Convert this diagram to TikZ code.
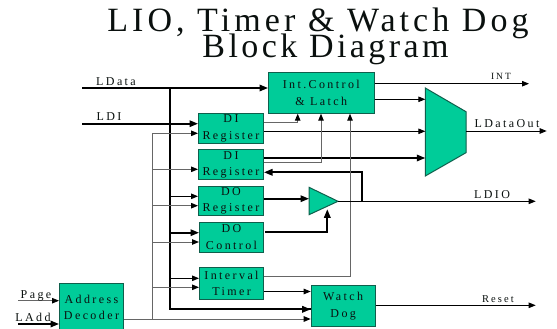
\documentclass[tikz,border=0pt]{standalone}
\usepackage{fontspec}
\setmainfont{Liberation Serif}
\newfontfamily\lblfont[LetterSpace=20]{Liberation Serif}
\newfontfamily\ttlfont[LetterSpace=10]{Liberation Serif}
\newfontfamily\ttlwidefont[LetterSpace=12]{Liberation Serif}
\usetikzlibrary{arrows.meta}
\definecolor{boxfill}{HTML}{00CC99}
\definecolor{boxedge}{HTML}{0F5F4C}
\definecolor{graywire}{HTML}{666666}
\definecolor{inktext}{HTML}{0A100E}
\tikzset{
  x=1pt,y=-1pt,
  box/.style={draw=boxedge,fill=boxfill,line width=1pt,anchor=north west,inner sep=0pt,align=center,text=inktext,font=\lblfont\fontsize{12}{16.5}\selectfont},
  lbl/.style={anchor=base,inner sep=0pt,text=inktext,font=\lblfont\fontsize{12}{14}\selectfont},
  ttl/.style={anchor=base,inner sep=0pt,text=inktext,font=\ttlfont\fontsize{34}{34}\selectfont},
  thin wire/.style={draw=black,line width=0.9pt,-{Triangle[length=7pt,width=5.5pt]}},
  gray wire/.style={draw=graywire,line width=1pt,-{Triangle[length=7pt,width=5.5pt,color=black]}},
  thick wire/.style={draw=black,line width=1.7pt,-{Triangle[length=8.5pt,width=6.5pt]}},
  thick line/.style={draw=black,line width=1.7pt},
  gray line/.style={draw=graywire,line width=1pt},
}
\begin{document}
\begin{tikzpicture}
\clip (0,0) rectangle (557,329);
\useasboundingbox (0,0) rectangle (557,329);
\fill[white] (0,0) rectangle (557,329);

\node[ttl,font=\ttlwidefont\fontsize{34}{34}\selectfont] (t1) at (318,32) {LIO, Timer \& Watch Dog};
\node[ttl] (t2) at (325.5,58) {Block Diagram};

% free ends and junctions
\coordinate (ldata) at (82,88);
\coordinate (ldi) at (82,123.7);
\coordinate (page) at (18,300.7);
\coordinate (ladd) at (18,324);
\coordinate (bbus) at (170,88);
\coordinate (gbus) at (152,319);
\coordinate (intend) at (529,83.7);
\coordinate (muxend) at (546.7,131);
\coordinate (ioend) at (535.7,201.3);
\coordinate (resetend) at (535.7,305.3);

% blocks
\node[box,minimum width=105.5pt,minimum height=40.2pt] (ic) at (268,72.5) {Int.Control\\\& Latch};
\node[box,minimum width=65pt,minimum height=30pt] (di1) at (198,112.7) {DI\\Register};
\node[box,minimum width=65pt,minimum height=30.3pt] (di2) at (198,149) {DI\\Register};
\node[box,minimum width=65pt,minimum height=29.6pt] (dor) at (198,185.7) {DO\\Register};
\node[box,minimum width=64pt,minimum height=30pt] (doc) at (199,221.7) {DO\\Control};
\node[box,minimum width=64pt,minimum height=32.6pt] (it) at (199,266.7) {Interval\\Timer};
\node[box,minimum width=64pt,minimum height=48pt] (ad) at (59,282.7) {Address\\Decoder};
\node[box,minimum width=64pt,minimum height=40.7pt] (wd) at (310.7,285.3) {Watch\\Dog};

% mux and tristate buffer
\draw[draw=boxedge,fill=boxfill,line width=1pt] (425.3,88) coordinate (muxa) -- (466,111.7) -- (466,152.7) -- (425.3,176) -- cycle;
\coordinate (muxout) at (466,131);
\draw[draw=boxedge,fill=boxfill,line width=1pt] (309,187.3) coordinate (bufa) -- (338,201.3) coordinate (bufout) -- (309,214.7) -- cycle;

% inputs
\draw[thick wire] (ldata) -- (ic.west |- ldata);
\draw[thick wire] (ldi) -- (di1.west |- ldi);
\draw[gray wire,line width=0.8pt] (page) -- (ad.west |- page);
\draw[thick wire] (ladd) -- (ad.west |- ladd);

% black bus
\draw[thick line] (bbus) -- (170,309.3) -- (wd.west |- 0,309.3);
\draw[thick wire] (170,309.3) -- (wd.west |- 0,309.3);
\draw[thin wire,line width=1pt] (170,196.3) -- (dor.west |- 0,196.3);
\draw[thick wire] (170,232.7) -- (doc.west |- 0,232.7);
\draw[thin wire,line width=1pt] (170,278.3) -- (it.west |- 0,278.3);

% gray decode bus
\draw[gray wire] (ad.east |- gbus) -- (wd.west |- gbus);
\draw[gray line] (gbus) -- (152,133.3);
\draw[gray wire] (152,133.3) -- (di1.west |- 0,133.3);
\draw[gray wire] (152,169.3) -- (di2.west |- 0,169.3);
\draw[gray wire] (152,205.7) -- (dor.west |- 0,205.7);
\draw[gray wire] (152,242) -- (doc.west |- 0,242);
\draw[gray wire] (152,287.3) -- (it.west |- 0,287.3);

% register outputs
\draw[gray wire] (di1.east |- 0,122) -| (297.7,0 |- ic.south);
\draw[thin wire] (di1.east |- 0,131.3) -- (muxa |- 0,131.3);
\draw[thick wire] (di2.east |- 0,158) -- (muxa |- 0,158);
\draw[gray wire] (di2.east |- 0,162.7) -| (321,0 |- ic.south);
\draw[thick wire] (361.7,201.3) -- (361.7,172.3) -- (di2.east |- 0,172.3);
\draw[thick wire] (dor.east |- 0,198.7) -- (bufa |- 0,198.7);
\draw[thick wire] (265,232) -| (327.3,209.3);
\draw[gray wire] (it.east |- 0,276) -| (350,0 |- ic.south);
\draw[thin wire] (it.east |- 0,291.5) -- (wd.west |- 0,291.5);

% outputs
\draw[thin wire] (ic.east |- intend) -- (intend);
\draw[thin wire] (ic.east |- 0,99.3) -- (muxa |- 0,99.3);
\draw[thin wire] (muxout) -- (muxend);
\draw[thin wire] (bufout) -- (ioend);
\draw[thin wire] (wd.east |- resetend) -- (resetend);

% labels
\node[lbl] (ll1) at (116,85) {LData};
\node[lbl] (ll2) at (109,120.5) {LDI};
\node[lbl,font=\lblfont\fontsize{9.5}{12}\selectfont] (ll3) at (501,79.5) {INT};
\node[lbl] (ll4) at (507,127.5) {LDataOut};
\node[lbl] (ll5) at (492,198) {LDIO};
\node[lbl,font=\lblfont\fontsize{10.5}{12}\selectfont] (ll6) at (498,302) {Reset};
\node[lbl] (ll7) at (36,298.5) {Page};
\node[lbl] (ll8) at (33,321.5) {LAdd};
\end{tikzpicture}
\end{document}
